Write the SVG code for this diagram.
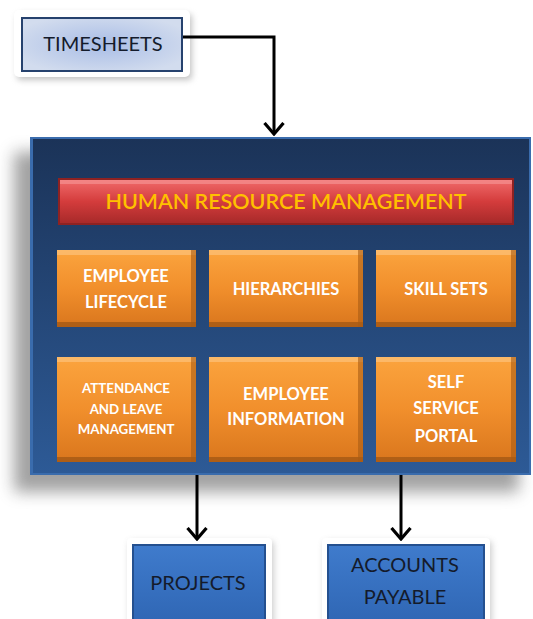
<svg xmlns="http://www.w3.org/2000/svg" width="533" height="619" viewBox="0 0 533 619">
<defs>
<style>
.t{font-family:Lato,"Liberation Sans",sans-serif;text-anchor:middle}
.w{fill:#ffffff;font-weight:bold;font-size:16.5px}
.s{font-size:13.3px}
.dk{fill:#141b2b;font-size:20px}
.conn{fill:none;stroke:#000;stroke-width:3}
</style>
<linearGradient id="panel" x1="0" y1="0" x2="0" y2="1">
<stop offset="0" stop-color="#1b3358"/><stop offset="1" stop-color="#2d5a96"/>
</linearGradient>
<linearGradient id="org" x1="0" y1="0" x2="0" y2="1">
<stop offset="0" stop-color="#fba43e"/><stop offset="0.5" stop-color="#f18f2c"/><stop offset="1" stop-color="#d9761d"/>
</linearGradient>
<linearGradient id="red" x1="0" y1="0" x2="0" y2="1">
<stop offset="0" stop-color="#f06a6a"/><stop offset="0.5" stop-color="#d43c3c"/><stop offset="1" stop-color="#a82a2a"/>
</linearGradient>
<radialGradient id="lb" cx="0.5" cy="0.5" r="0.6">
<stop offset="0" stop-color="#a9bde6"/><stop offset="1" stop-color="#d2dcee"/>
</radialGradient>
<linearGradient id="bb" x1="0" y1="0" x2="0" y2="1">
<stop offset="0" stop-color="#3f7bcc"/><stop offset="1" stop-color="#2f66b4"/>
</linearGradient>
<filter id="blur" x="-20%" y="-20%" width="140%" height="140%"><feGaussianBlur stdDeviation="8"/></filter>
<filter id="sblur" x="-20%" y="-20%" width="140%" height="140%"><feGaussianBlur stdDeviation="3"/></filter>
<marker id="ah" viewBox="0 0 14 22" refX="12" refY="11" markerWidth="14" markerHeight="22" markerUnits="userSpaceOnUse" orient="auto">
<path d="M1,1.5 L12,11 L1,20.5" fill="none" stroke="#000" stroke-width="3.2"/>
</marker>
</defs>
<rect width="533" height="619" fill="#ffffff"/>

<g id="timesheets">
<rect x="17" y="14" width="175" height="66" rx="4" fill="#888" opacity="0.5" filter="url(#sblur)"/>
<rect x="14" y="10" width="176" height="67" rx="5" fill="#ffffff"/>
<rect x="21" y="17" width="162" height="55" fill="#26426e"/>
<rect x="23" y="19" width="158" height="51" fill="url(#lb)"/>
<text class="t dk" x="103" y="51">TIMESHEETS</text>
</g>

<g id="hrm-panel">
<rect x="14" y="152" width="505" height="340" fill="#7a7a7a" opacity="0.7" filter="url(#blur)"/>
<rect x="30" y="137" width="501" height="338" fill="#3a6cad"/>
<rect x="33" y="139" width="496" height="334" fill="url(#panel)"/>
</g>

<g id="hrm-title">
<rect x="58" y="178" width="456" height="47" fill="#8e2222"/>
<rect x="60" y="180" width="452" height="43" fill="url(#red)"/>
<rect x="60" y="180" width="452" height="4" fill="#f48b8b" opacity="0.8"/>
<text class="t" x="286" y="209" fill="#ffc000" font-size="21.5" font-weight="600">HUMAN RESOURCE MANAGEMENT</text>
</g>

<g id="employee-lifecycle">
<rect x="57" y="250" width="139" height="77" fill="url(#org)"/>
<rect x="57" y="250" width="139" height="5" fill="#fcc27a" opacity="0.7"/>
<rect x="57" y="322" width="139" height="5" fill="#9c5412" opacity="0.7"/>
<rect x="191" y="250" width="5" height="77" fill="#a95c14" opacity="0.6"/>
<text class="t w" x="126" y="282">EMPLOYEE</text>
<text class="t w" x="126" y="308">LIFECYCLE</text>
</g>

<g id="hierarchies">
<rect x="209" y="250" width="154" height="77" fill="url(#org)"/>
<rect x="209" y="250" width="154" height="5" fill="#fcc27a" opacity="0.7"/>
<rect x="209" y="322" width="154" height="5" fill="#9c5412" opacity="0.7"/>
<rect x="358" y="250" width="5" height="77" fill="#a95c14" opacity="0.6"/>
<text class="t w" x="286" y="295">HIERARCHIES</text>
</g>

<g id="skill-sets">
<rect x="376" y="250" width="140" height="77" fill="url(#org)"/>
<rect x="376" y="250" width="140" height="5" fill="#fcc27a" opacity="0.7"/>
<rect x="376" y="322" width="140" height="5" fill="#9c5412" opacity="0.7"/>
<rect x="511" y="250" width="5" height="77" fill="#a95c14" opacity="0.6"/>
<text class="t w" x="446" y="295">SKILL SETS</text>
</g>

<g id="attendance">
<rect x="57" y="357" width="139" height="105" fill="url(#org)"/>
<rect x="57" y="357" width="139" height="5" fill="#fcc27a" opacity="0.7"/>
<rect x="57" y="457" width="139" height="5" fill="#9c5412" opacity="0.7"/>
<rect x="191" y="357" width="5" height="105" fill="#a95c14" opacity="0.6"/>
<text class="t w s" x="126" y="393">ATTENDANCE</text>
<text class="t w s" x="126" y="414">AND LEAVE</text>
<text class="t w s" x="126" y="434">MANAGEMENT</text>
</g>

<g id="employee-information">
<rect x="209" y="357" width="154" height="105" fill="url(#org)"/>
<rect x="209" y="357" width="154" height="5" fill="#fcc27a" opacity="0.7"/>
<rect x="209" y="457" width="154" height="5" fill="#9c5412" opacity="0.7"/>
<rect x="358" y="357" width="5" height="105" fill="#a95c14" opacity="0.6"/>
<text class="t w" x="286" y="400">EMPLOYEE</text>
<text class="t w" x="286" y="425">INFORMATION</text>
</g>

<g id="self-service-portal">
<rect x="376" y="357" width="140" height="105" fill="url(#org)"/>
<rect x="376" y="357" width="140" height="5" fill="#fcc27a" opacity="0.7"/>
<rect x="376" y="457" width="140" height="5" fill="#9c5412" opacity="0.7"/>
<rect x="511" y="357" width="5" height="105" fill="#a95c14" opacity="0.6"/>
<text class="t w" x="446" y="388">SELF</text>
<text class="t w" x="446" y="414">SERVICE</text>
<text class="t w" x="446" y="442">PORTAL</text>
</g>

<g id="projects">
<rect x="129" y="541" width="145" height="90" rx="4" fill="#888" opacity="0.4" filter="url(#sblur)"/>
<rect x="127" y="538" width="145" height="90" rx="4" fill="#ffffff"/>
<rect x="132" y="544" width="134" height="80" fill="#24508f"/>
<rect x="134" y="546" width="130" height="78" fill="url(#bb)"/>
<text class="t dk" x="198" y="590">PROJECTS</text>
</g>

<g id="accounts-payable">
<rect x="324" y="541" width="168" height="90" rx="4" fill="#888" opacity="0.4" filter="url(#sblur)"/>
<rect x="322" y="538" width="168" height="90" rx="4" fill="#ffffff"/>
<rect x="327" y="544" width="158" height="80" fill="#24508f"/>
<rect x="329" y="546" width="154" height="78" fill="url(#bb)"/>
<text class="t dk" x="405" y="572">ACCOUNTS</text>
<text class="t dk" x="405" y="604">PAYABLE</text>
</g>

<g id="connectors">
<path class="conn" d="M183,37 H274 V134" marker-end="url(#ah)"/>
<path class="conn" d="M197,475 V539" marker-end="url(#ah)"/>
<path class="conn" d="M401,475 V539" marker-end="url(#ah)"/>
</g>
</svg>
